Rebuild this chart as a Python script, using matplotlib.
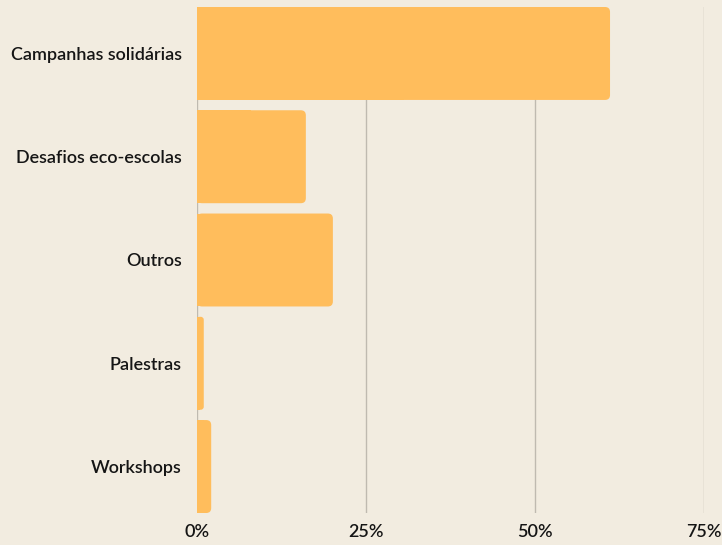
import matplotlib
matplotlib.use("Agg")
import matplotlib.pyplot as plt
from matplotlib.patches import FancyBboxPatch
from matplotlib.ticker import FuncFormatter

categories = ["Campanhas solidárias", "Desafios eco-escolas", "Outros", "Palestras", "Workshops"]
values = [61.1, 16.1, 20.1, 1.0, 2.1]
ticks = [0, 25, 50, 75]

BG = "#F2ECE0"
BAR = "#FFBD5C"
GRID = "#BFBAB0"

plt.rcParams["font.family"] = ["Lato", "DejaVu Sans"]

fig = plt.figure(figsize=(7.22, 5.45), dpi=100, facecolor=BG)
ax = fig.add_axes([197 / 722, 1 - 513 / 545, (704 - 197) / 722, (513 - 7) / 545])
ax.set_facecolor(BG)

height = 0.9
ypos = list(range(len(categories)))
ax.set_xlim(0, 75)
ax.set_ylim(len(categories) - 0.55, -0.45)

# pixel sizes so the corner radius is round on screen
px_x = (704 - 197) / 75.0
px_y = (513 - 7) / (len(categories) - 0.1)
r_px = 5.0
aspect = (1 / px_y) / (1 / px_x)

for y, v in zip(ypos, values):
    r = min(r_px / px_x, v * 0.45)
    patch = FancyBboxPatch(
        (r, y - height / 2 + r * aspect),
        v - 2 * r,
        height - 2 * r * aspect,
        boxstyle=f"round,pad={r},rounding_size={r}",
        mutation_aspect=aspect,
        facecolor=BAR,
        edgecolor="none",
        zorder=3,
    )
    ax.add_patch(patch)
    # square off the left side
    ax.barh(y, v / 2, height=height, color=BAR, zorder=3, linewidth=0)

ax.set_yticks(ypos)
ax.set_yticklabels(categories, fontsize=13, color="#151515", fontweight="semibold")
ax.set_xticks(ticks)
ax.xaxis.set_major_formatter(FuncFormatter(lambda x, _: f"{int(x)}%"))
for lbl in ax.get_xticklabels():
    lbl.set_fontweight("semibold")
ax.tick_params(axis="x", labelsize=13, colors="#151515", length=0, pad=8)
ax.tick_params(axis="y", length=0, pad=11)
ax.grid(axis="x", color=GRID, linewidth=1, zorder=0)
for s in ax.spines.values():
    s.set_visible(False)

fig.savefig("out.png", dpi=100, facecolor=BG)
